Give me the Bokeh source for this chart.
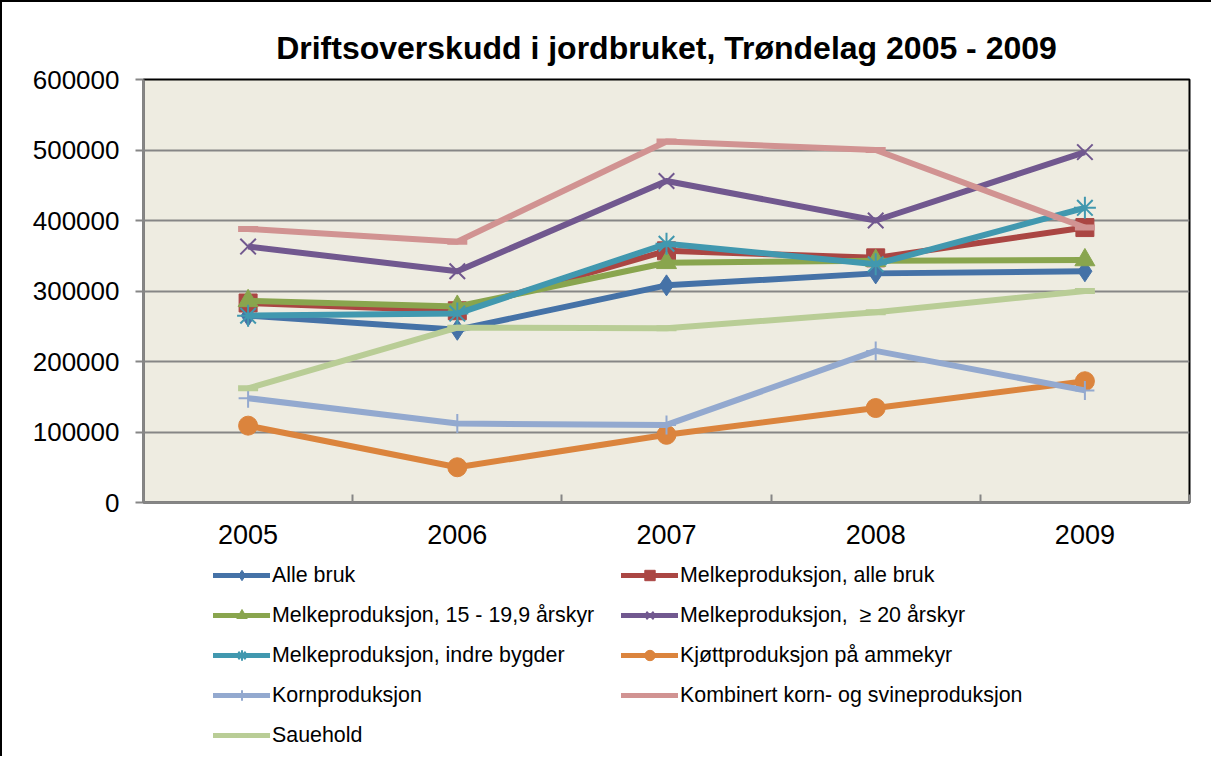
from bokeh.plotting import figure
from bokeh.layouts import column
from bokeh.models import Range1d, FixedTicker, NumeralTickFormatter, Legend, LegendItem
from bokeh.embed import file_html
from bokeh.resources import INLINE

# ---------------- data ----------------
years = ["2005", "2006", "2007", "2008", "2009"]
y_ticks = [0, 100000, 200000, 300000, 400000, 500000, 600000]

alle_bruk = [265000, 245000, 308000, 325000, 328000]
melk_alle = [283000, 272000, 357000, 347000, 390000]
melk_15_19 = [286000, 278000, 340000, 343000, 344000]
melk_20 = [363000, 328000, 456000, 400000, 497000]
melk_indre = [265000, 268000, 367000, 338000, 418000]
kjott = [109000, 50000, 96000, 134000, 172000]
korn = [148000, 112000, 110000, 215000, 159000]
kombinert = [388000, 370000, 512000, 500000, 390000]
sauehold = [162000, 248000, 247000, 270000, 300000]

labels = [
    "Alle bruk",
    "Melkeproduksjon, alle bruk",
    "Melkeproduksjon, 15 - 19,9 årskyr",
    "Melkeproduksjon,  \u2265 20 årskyr",
    "Melkeproduksjon, indre bygder",
    "Kjøttproduksjon på ammekyr",
    "Kornproduksjon",
    "Kombinert korn- og svineproduksjon",
    "Sauehold",
]
series = [alle_bruk, melk_alle, melk_15_19, melk_20, melk_indre, kjott, korn, kombinert, sauehold]
colors = ["#4572A7", "#AA4643", "#89A54E", "#71588F", "#4198AF",
          "#DB843D", "#93A9CF", "#D19392", "#B9CD96"]
markers = ["diamond", "square", "triangle", "x", "asterisk", "circle", "cross", "dash", "dash"]
msizes = [21, 18, 20, 22, 22, 19, 19, 20, 20]
mwidths = [1, 1, 1, 2, 2, 1, 2, 6, 6]

# positions of categories on a numeric axis (category centres)
xpos = [i + 0.5 for i in range(len(years))]
bounds = [i for i in range(len(years) + 1)]

FONT = "Liberation Sans"
GRAY = "#868686"

W = 1211
H_MAIN = 555
H_LEG = 201

p = figure(
    width=W, height=H_MAIN,
    output_backend="svg", toolbar_location=None,
    x_range=Range1d(0, len(years)), y_range=Range1d(y_ticks[0], y_ticks[-1]),
    min_border_left=141, min_border_right=24, min_border_top=77, min_border_bottom=55,
    background_fill_color="#EEECE1", border_fill_color="white",
)
p.styles = {"border-left": "2px solid black", "border-top": "2px solid black"}

p.title.text = "Driftsoverskudd i jordbruket, Trøndelag 2005 - 2009"
p.title.text_font = FONT
p.title.text_font_size = "32px"
p.title.text_font_style = "bold"
p.title.align = "center"
p.title.standoff = 28
p.title.offset = -5
p.title.text_color = "black"

p.outline_line_color = "black"
p.outline_line_width = 2

# y axis
p.yaxis.ticker = FixedTicker(ticks=y_ticks)
p.yaxis.formatter = NumeralTickFormatter(format="0")
p.yaxis.major_tick_out = 8
p.yaxis.major_tick_in = 0
p.yaxis.minor_tick_line_color = None
p.yaxis.axis_line_color = GRAY
p.yaxis.axis_line_width = 2.5
p.yaxis.major_tick_line_color = GRAY
p.yaxis.major_tick_line_width = 2
p.yaxis.major_label_text_font = FONT
p.yaxis.major_label_text_font_size = "26px"
p.yaxis.major_label_text_color = "black"
p.yaxis.major_label_standoff = 16

# x axis
p.xaxis.ticker = FixedTicker(ticks=xpos, minor_ticks=bounds)
p.xaxis.major_label_overrides = {xp: yr for xp, yr in zip(xpos, years)}
p.xaxis.major_tick_line_color = None
p.xaxis.major_tick_out = 0
p.xaxis.major_tick_in = 0
p.xaxis.minor_tick_in = 8
p.xaxis.minor_tick_out = 0
p.xaxis.minor_tick_line_color = GRAY
p.xaxis.minor_tick_line_width = 2
p.xaxis.axis_line_color = GRAY
p.xaxis.axis_line_width = 2.5
p.xaxis.major_label_text_font = FONT
p.xaxis.major_label_text_font_size = "27px"
p.xaxis.major_label_text_color = "black"
p.xaxis.major_label_standoff = 22

p.xgrid.visible = False
p.ygrid.grid_line_color = GRAY
p.ygrid.grid_line_width = 2

for vals, col, mk, ms, mw in zip(series, colors, markers, msizes, mwidths):
    p.line(xpos, vals, line_color=col, line_width=6, line_join="round")
    p.scatter(xpos, vals, marker=mk, size=ms, fill_color=col,
              line_color=col, line_width=mw)

# ---------------- legend panel (separate figure below the chart) ----------------
q = figure(
    width=W, height=H_LEG,
    output_backend="svg", toolbar_location=None,
    x_range=Range1d(100, 101), y_range=Range1d(y_ticks[0], y_ticks[-1]),
    x_axis_location=None, y_axis_location=None,
    min_border_left=0, min_border_right=0, min_border_top=0, min_border_bottom=0,
    background_fill_color="white", border_fill_color="white",
)
q.styles = {"border-left": "2px solid black"}
q.outline_line_color = None
q.xgrid.visible = False
q.ygrid.visible = False

items = []
for lab, vals, col, mk, ms, mw in zip(labels, series, colors, markers, msizes, mwidths):
    lr = q.line(xpos, vals, line_color=col, line_width=5, line_join="round",
                line_cap="round")
    sr = q.scatter(xpos, vals, marker=mk, size=ms, fill_color=col,
                   line_color=col, line_width=min(mw, 2))
    items.append(LegendItem(label=lab, renderers=[lr, sr]))

legend = Legend(
    items=items, location=(70, 8), orientation="horizontal", ncols=2,
    glyph_width=57, glyph_height=26, label_height=26, label_width=335,
    label_standoff=2, spacing=14, padding=0, margin=0,
    label_text_font=FONT, label_text_font_size="21.4px", label_text_color="black",
    border_line_color=None, background_fill_alpha=0,
)
q.add_layout(legend, "center")

layout = column(p, q, spacing=0)
open("out.html", "w").write(file_html(layout, INLINE))
